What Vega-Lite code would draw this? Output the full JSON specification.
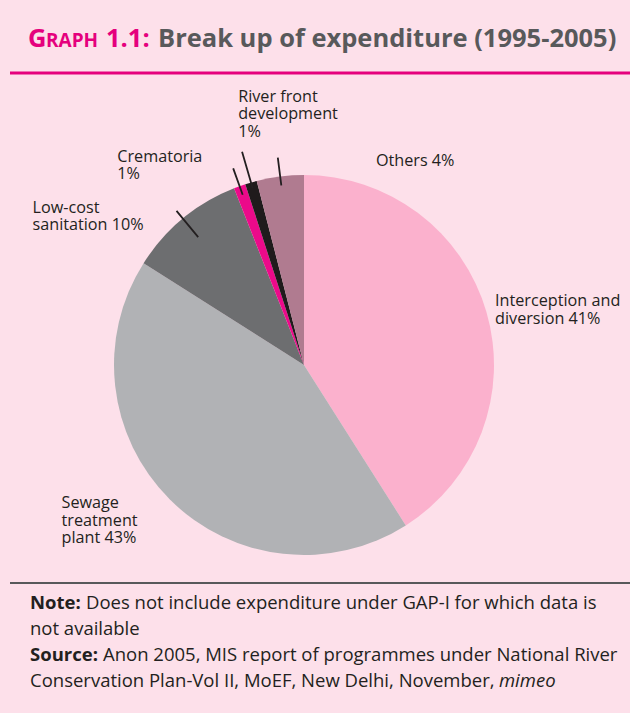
{
  "$schema": "https://vega.github.io/schema/vega-lite/v6.json",
  "background": "#fde0ea",
  "padding": {"left": 8, "top": 11, "right": 0, "bottom": 0},
  "bounds": "flush",
  "config": {"view": {"stroke": null}, "font": "Open Sans", "text": {"font": "Open Sans"}},
  "datasets": {
    "spend": [
      {"label": "Interception and diversion", "value": 41, "order": 1, "text": "Interception and\ndiversion 41%"},
      {"label": "Sewage treatment plant", "value": 43, "order": 2, "text": "Sewage\ntreatment\nplant 43%"},
      {"label": "Low-cost sanitation", "value": 10, "order": 3, "text": "Low-cost\nsanitation 10%"},
      {"label": "Crematoria", "value": 1, "order": 4, "text": "Crematoria\n1%"},
      {"label": "River front development", "value": 1, "order": 5, "text": "River front\ndevelopment\n1%"},
      {"label": "Others", "value": 4, "order": 6, "text": "Others 4%"}
    ],
    "notes": [
      {"line": 1, "kind": "bold", "t": "Note:"},
      {"line": 1, "kind": "rest1", "t": "Does not include expenditure under GAP-I for which data is"},
      {"line": 2, "kind": "plain", "t": "not available"},
      {"line": 3, "kind": "bold", "t": "Source:"},
      {"line": 3, "kind": "rest3", "t": "Anon 2005, MIS report of programmes under National River"},
      {"line": 4, "kind": "plain", "t": "Conservation Plan-Vol II, MoEF, New Delhi, November,"},
      {"line": 4, "kind": "italic", "t": "mimeo"}
    ]
  },
  "spacing": 74,
  "vconcat": [
    {
      "width": 622,
      "height": 62,
      "layer": [
        {
          "data": {"values": [{"t": "rule"}]},
          "mark": {"type": "rule", "color": "#e5007d", "strokeWidth": 3},
          "encoding": {"y": {"value": "height"}}
        },
        {
          "data": {"values": [{"t": "G"}]},
          "mark": {"type": "text", "align": "left", "baseline": "alphabetic", "dx": -293, "dy": 5, "fontSize": 25.5, "fontWeight": "bold", "color": "#e5007d"},
          "encoding": {"text": {"field": "t"}}
        },
        {
          "data": {"values": [{"t": "RAPH"}]},
          "mark": {"type": "text", "align": "left", "baseline": "alphabetic", "dx": -275, "dy": 5, "fontSize": 19, "fontWeight": "bold", "color": "#e5007d"},
          "encoding": {"text": {"field": "t"}}
        },
        {
          "data": {"values": [{"t": "1.1:"}]},
          "mark": {"type": "text", "align": "left", "baseline": "alphabetic", "dx": -215, "dy": 5, "fontSize": 25.5, "fontWeight": "bold", "color": "#e5007d"},
          "encoding": {"text": {"field": "t"}}
        },
        {
          "data": {"values": [{"t": "Break up of expenditure (1995-2005)"}]},
          "mark": {"type": "text", "align": "left", "baseline": "alphabetic", "dx": -163, "dy": 5, "fontSize": 25.5, "fontWeight": "bold", "color": "#58595b"},
          "encoding": {"text": {"field": "t"}}
        }
      ]
    },
    {
      "spacing": 0,
      "bounds": "flush",
      "vconcat": [
        {
          "width": 588,
          "height": 436,
          "data": {"name": "spend"},
          "encoding": {
            "theta": {"field": "value", "type": "quantitative", "stack": true},
            "order": {"field": "order", "type": "quantitative"}
          },
          "layer": [
            {
              "mark": {"type": "arc", "radius": 190},
              "encoding": {
                "color": {
                  "field": "label", "type": "nominal", "legend": null,
                  "scale": {
                    "domain": ["Interception and diversion", "Sewage treatment plant", "Low-cost sanitation", "Crematoria", "River front development", "Others"],
                    "range": ["#fbb1cd", "#b1b2b5", "#6d6e70", "#ec0a8a", "#1f1b1c", "#b07b90"]
                  }
                }
              }
            },
            {
              "mark": {"type": "arc", "radius": 209, "radius2": 181, "padAngle": 1.5, "fill": "transparent", "stroke": "#231f20", "strokeWidth": 1.8},
              "encoding": {"detail": {"field": "label"}, "strokeOpacity": {"condition": {"test": "datum.label === 'Others' || datum.label === 'Crematoria'", "value": 1}, "value": 0}}
            },
            {
              "mark": {"type": "arc", "radius": 222, "radius2": 184, "padAngle": 1.5, "fill": "transparent", "stroke": "#231f20", "strokeWidth": 1.8},
              "encoding": {"detail": {"field": "label"}, "strokeOpacity": {"condition": {"test": "datum.label === 'River front development'", "value": 1}, "value": 0}}
            },
            {
              "mark": {"type": "arc", "radius": 200, "radius2": 166, "padAngle": 1.5, "fill": "transparent", "stroke": "#231f20", "strokeWidth": 1.8},
              "encoding": {"detail": {"field": "label"}, "strokeOpacity": {"condition": {"test": "datum.label === 'Low-cost sanitation'", "value": 1}, "value": 0}}
            },
            {
              "mark": {"type": "text", "radius": 200, "align": "left", "baseline": "alphabetic", "dx": -1, "dy": -3, "fontSize": 16.2, "lineHeight": 17.5, "lineBreak": "\n", "color": "#231f20"},
              "encoding": {"detail": {"field": "label"}, "text": {"condition": {"test": "datum.label === 'Interception and diversion'", "field": "text"}, "value": ""}}
            },
            {
              "mark": {"type": "text", "radius": 200, "align": "left", "baseline": "alphabetic", "dx": -101, "dy": 2, "fontSize": 16.2, "lineHeight": 17.5, "lineBreak": "\n", "color": "#231f20"},
              "encoding": {"detail": {"field": "label"}, "text": {"condition": {"test": "datum.label === 'Sewage treatment plant'", "field": "text"}, "value": ""}}
            },
            {
              "mark": {"type": "text", "radius": 200, "align": "left", "baseline": "alphabetic", "dx": -144, "dy": 2, "fontSize": 16.2, "lineHeight": 17.5, "lineBreak": "\n", "color": "#231f20"},
              "encoding": {"detail": {"field": "label"}, "text": {"condition": {"test": "datum.label === 'Low-cost sanitation'", "field": "text"}, "value": ""}}
            },
            {
              "mark": {"type": "text", "radius": 200, "align": "left", "baseline": "alphabetic", "dx": -119, "dy": -15, "fontSize": 16.2, "lineHeight": 17.5, "lineBreak": "\n", "color": "#231f20"},
              "encoding": {"detail": {"field": "label"}, "text": {"condition": {"test": "datum.label === 'Crematoria'", "field": "text"}, "value": ""}}
            },
            {
              "mark": {"type": "text", "radius": 200, "align": "left", "baseline": "alphabetic", "dx": -10, "dy": -71, "fontSize": 16.2, "lineHeight": 17.5, "lineBreak": "\n", "color": "#231f20"},
              "encoding": {"detail": {"field": "label"}, "text": {"condition": {"test": "datum.label === 'River front development'", "field": "text"}, "value": ""}}
            },
            {
              "mark": {"type": "text", "radius": 200, "align": "left", "baseline": "alphabetic", "dx": 97, "dy": -1, "fontSize": 16.2, "lineHeight": 17.5, "lineBreak": "\n", "color": "#231f20"},
              "encoding": {"detail": {"field": "label"}, "text": {"condition": {"test": "datum.label === 'Others'", "field": "text"}, "value": ""}}
            }
          ]
        },
        {
          "width": 622,
          "height": 130,
          "data": {"name": "notes"},
          "layer": [
            {
              "data": {"values": [{"t": "rule"}]},
              "mark": {"type": "rule", "color": "#58595b", "strokeWidth": 2},
              "encoding": {"y": {"value": 0}}
            },
            {
              "transform": [{"filter": "datum.kind === 'bold'"}],
              "mark": {"type": "text", "align": "left", "baseline": "alphabetic", "dx": -291, "fontSize": 18.5, "fontWeight": "bold", "color": "#231f20"},
              "encoding": {
                "y": {"field": "line", "type": "ordinal", "axis": null, "scale": {"type": "point", "domain": [1, 2, 3, 4], "padding": 1.56}},
                "text": {"field": "t"}
              }
            },
            {
              "transform": [{"filter": "datum.kind === 'rest1'"}],
              "mark": {"type": "text", "align": "left", "baseline": "alphabetic", "dx": -235, "fontSize": 18.5, "color": "#231f20"},
              "encoding": {
                "y": {"field": "line", "type": "ordinal", "axis": null, "scale": {"type": "point", "domain": [1, 2, 3, 4], "padding": 1.56}},
                "text": {"field": "t"}
              }
            },
            {
              "transform": [{"filter": "datum.kind === 'rest3'"}],
              "mark": {"type": "text", "align": "left", "baseline": "alphabetic", "dx": -218, "fontSize": 18.5, "color": "#231f20"},
              "encoding": {
                "y": {"field": "line", "type": "ordinal", "axis": null, "scale": {"type": "point", "domain": [1, 2, 3, 4], "padding": 1.56}},
                "text": {"field": "t"}
              }
            },
            {
              "transform": [{"filter": "datum.kind === 'plain'"}],
              "mark": {"type": "text", "align": "left", "baseline": "alphabetic", "dx": -291, "fontSize": 18.5, "color": "#231f20"},
              "encoding": {
                "y": {"field": "line", "type": "ordinal", "axis": null, "scale": {"type": "point", "domain": [1, 2, 3, 4], "padding": 1.56}},
                "text": {"field": "t"}
              }
            },
            {
              "transform": [{"filter": "datum.kind === 'italic'"}],
              "mark": {"type": "text", "align": "left", "baseline": "alphabetic", "dx": 178, "fontSize": 18.5, "fontStyle": "italic", "color": "#231f20"},
              "encoding": {
                "y": {"field": "line", "type": "ordinal", "axis": null, "scale": {"type": "point", "domain": [1, 2, 3, 4], "padding": 1.56}},
                "text": {"field": "t"}
              }
            }
          ]
        }
      ]
    }
  ]
}
